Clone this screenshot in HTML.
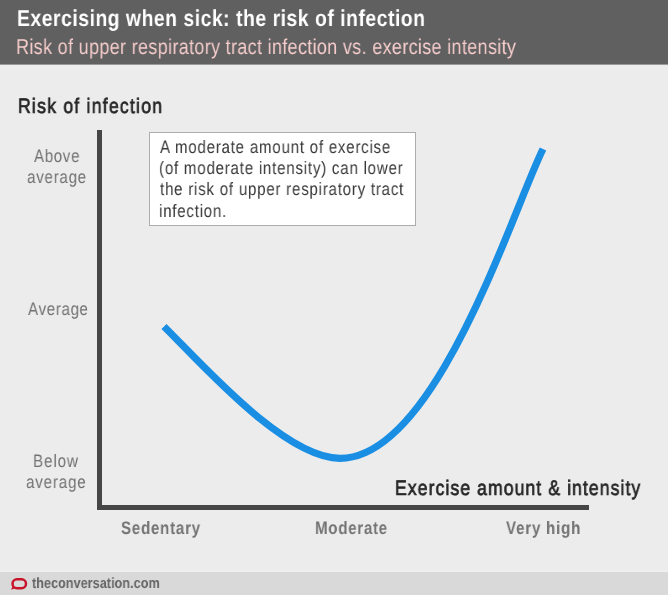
<!DOCTYPE html>
<html><head><meta charset="utf-8"><style>
html,body{margin:0;padding:0;}
body{width:668px;height:595px;position:relative;overflow:hidden;background:#ececec;font-family:"Liberation Sans",sans-serif;}
.t{position:absolute;white-space:pre;transform-origin:0 0;text-rendering:geometricPrecision;will-change:transform;}

#ftr{position:absolute;left:0;top:572px;width:668px;height:23px;background:#d9d9d9;}
#box{position:absolute;left:149px;top:132px;width:265px;height:92px;background:#fff;border:1px solid #adadad;}
</style></head><body>

<div id="ftr"></div><div style="position:absolute;left:0;top:570px;width:668px;height:2px;background:#efefef"></div>
<svg width="668" height="595" style="position:absolute;left:0;top:0">
<rect x="0" y="0" width="668" height="64.6" fill="#606060"/>
<rect x="97" y="130" width="5" height="380" fill="#464646"/>
<rect x="97" y="505" width="492" height="5" fill="#464646"/>
<path d="M164,326.5 C201.6,363.7 284.7,458.3 340,458.3 C436.3,458.3 512.5,210.4 543,149" fill="none" stroke="#1a8ee3" stroke-width="7.2"/>
<rect x="12.5" y="579.2" width="13.5" height="9" rx="4.5" ry="4.5" fill="none" stroke="#c8142a" stroke-width="2.5"/>
<path d="M12.5,586.5 L11.1,589.7 L14.8,588.6 Z" fill="#c8142a"/>
</svg>
<div id="box"></div>
<div class="t" style="left:16.88px;top:-5.10px;font-size:23px;line-height:46px;font-weight:bold;color:#ffffff;letter-spacing:0.648px;transform:scaleX(0.8394)">Exercising when sick: the risk of infection</div>
<div class="t" style="left:16.02px;top:26.04px;font-size:21.5px;line-height:43.0px;font-weight:normal;color:#f6cccc;letter-spacing:0.363px;transform:scaleX(0.8398)">Risk of upper respiratory tract infection vs. exercise intensity</div>
<div class="t" style="left:18.04px;top:86.35px;font-size:21px;line-height:42px;font-weight:normal;color:#262626;letter-spacing:1.451px;transform:scaleX(0.8400);-webkit-text-stroke:0.7px #262626">Risk of infection</div>
<div class="t" style="left:160.03px;top:128.74px;font-size:18px;line-height:36px;font-weight:normal;color:#3a3a3a;letter-spacing:0.897px;transform:scaleX(0.8398)">A moderate amount of exercise</div>
<div class="t" style="left:159.22px;top:149.94px;font-size:18px;line-height:36px;font-weight:normal;color:#3a3a3a;letter-spacing:0.897px;transform:scaleX(0.8410)">(of moderate intensity) can lower</div>
<div class="t" style="left:159.59px;top:171.24px;font-size:18px;line-height:36px;font-weight:normal;color:#3a3a3a;letter-spacing:0.905px;transform:scaleX(0.8394)">the risk of upper respiratory tract</div>
<div class="t" style="left:159.19px;top:192.54px;font-size:18px;line-height:36px;font-weight:normal;color:#3a3a3a;letter-spacing:0.897px;transform:scaleX(0.8400)">infection.</div>
<div class="t" style="left:34.43px;top:137.74px;font-size:18px;line-height:36px;font-weight:normal;color:#727272;letter-spacing:0.780px;transform:scaleX(0.8389)">Above</div>
<div class="t" style="left:27.15px;top:158.54px;font-size:18px;line-height:36px;font-weight:normal;color:#727272;letter-spacing:0.881px;transform:scaleX(0.8412)">average</div>
<div class="t" style="left:28.43px;top:290.64px;font-size:18px;line-height:36px;font-weight:normal;color:#727272;letter-spacing:0.736px;transform:scaleX(0.8431)">Average</div>
<div class="t" style="left:33.13px;top:442.84px;font-size:18px;line-height:36px;font-weight:normal;color:#727272;letter-spacing:1.086px;transform:scaleX(0.8438)">Below</div>
<div class="t" style="left:26.25px;top:463.54px;font-size:18px;line-height:36px;font-weight:normal;color:#727272;letter-spacing:1.000px;transform:scaleX(0.8400)">average</div>
<div class="t" style="left:121.05px;top:509.70px;font-size:18px;line-height:36px;font-weight:bold;color:#747474;letter-spacing:0.837px;transform:scaleX(0.8432)">Sedentary</div>
<div class="t" style="left:314.89px;top:510.30px;font-size:18px;line-height:36px;font-weight:bold;color:#747474;letter-spacing:0.836px;transform:scaleX(0.8403)">Moderate</div>
<div class="t" style="left:505.76px;top:510.00px;font-size:18px;line-height:36px;font-weight:bold;color:#747474;letter-spacing:0.960px;transform:scaleX(0.8377)">Very high</div>
<div class="t" style="left:395.04px;top:468.35px;font-size:21px;line-height:42px;font-weight:normal;color:#262626;letter-spacing:1.267px;transform:scaleX(0.8398);-webkit-text-stroke:0.7px #262626">Exercise amount &amp; intensity</div>
<div class="t" style="left:32.33px;top:568.52px;font-size:15px;line-height:30px;font-weight:bold;color:#656565;letter-spacing:0.064px;transform:scaleX(0.8399)">theconversation.com</div>
</body></html>
